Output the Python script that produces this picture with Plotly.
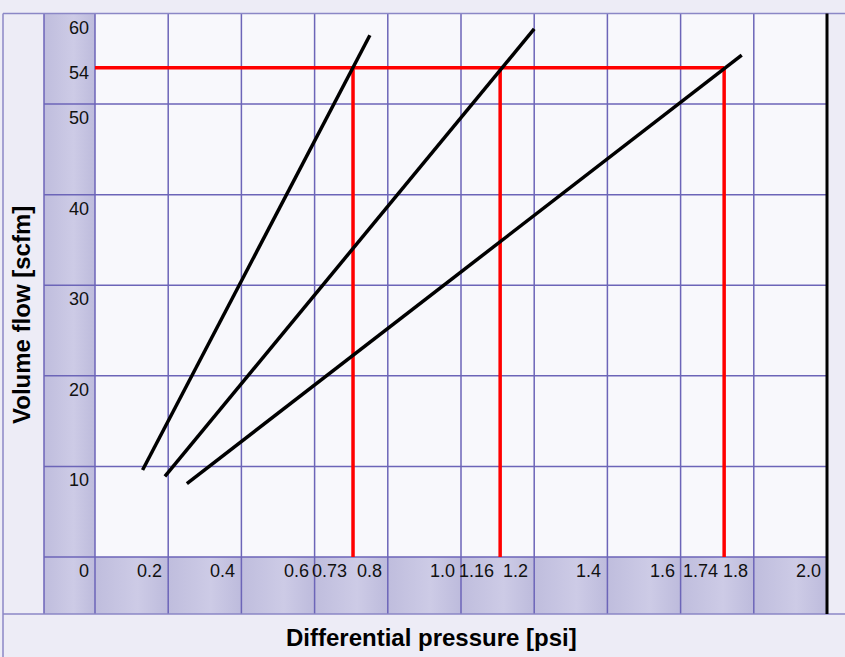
import plotly.graph_objects as go

# ---------------- data ----------------
X_TICKS = [0, 0.2, 0.4, 0.6, 0.8, 1.0, 1.2, 1.4, 1.6, 1.8, 2.0]
X_TICK_TEXT = ["0", "0.2", "0.4", "0.6", "0.8", "1.0", "1.2", "1.4", "1.6", "1.8", "2.0"]
Y_TICKS = [0, 10, 20, 30, 40, 50, 60]
Y_TICK_TEXT = ["", "10", "20", "30", "40", "50", "60"]

# three characteristic lines (differential pressure psi, volume flow scfm)
LINE_A_X = [0.130, 0.751]
LINE_A_Y = [9.6, 57.6]
LINE_B_X = [0.191, 1.200]
LINE_B_Y = [8.9, 58.3]
LINE_C_X = [0.251, 1.767]
LINE_C_Y = [8.1, 55.4]

READ_FLOW = 54
READ_FLOW_TEXT = "54"
READ_X = [0.705, 1.107, 1.719]
READ_X_TEXT = ["0.73", "1.16", "1.74"]

X_TITLE = "Differential pressure [psi]"
Y_TITLE = "Volume flow [scfm]"

# ---------------- layout helpers (pixel -> data for frame placement) ----------------
W, H = 845, 657
PX_X0, PX_PER_X = 95.0, 366.0      # x=0 at px 95, 1 psi = 366 px
PX_Y0, PX_PER_Y = 557.0, 9.0583    # y=0 at px 557, 1 scfm = 9.058 px


def dx(px):
    return (px - PX_X0) / PX_PER_X


def dy(py):
    return (PX_Y0 - py) / PX_PER_Y


XMIN, XMAX = dx(0), dx(W)
YMIN, YMAX = dy(H), dy(0)
XB = dx(44)      # left edge of y-label band
YB = dy(614)     # bottom edge of x-label band
XF = dx(3)       # outer left frame line
XTOP = X_TICKS[-1]
YTOP = Y_TICKS[-1]

GRID = "#6c65b8"
FRAME = "#8b87c6"
BAND_SCALE = [[0, "#bfbddd"], [0.58, "#cdcbe6"], [1, "#bdbbdc"]]
FONT = "Liberation Sans, Arial, sans-serif"

fig = go.Figure()


def band(x0, x1, y0, y1):
    fig.add_trace(go.Scatter(
        x=[x0, x1, x1, x0, x0], y=[y0, y0, y1, y1, y0],
        mode="lines", line=dict(width=0), fill="toself",
        fillgradient=dict(type="horizontal", colorscale=BAND_SCALE),
        hoverinfo="skip", showlegend=False))


# y label column
band(XB, 0, YB, YTOP)
# x label cells
for a, b in zip(X_TICKS[:-1], X_TICKS[1:]):
    band(a, b, YB, 0)

# grid lines
gx, gy = [], []
for t in [XB] + X_TICKS[:-1]:
    gx += [t, t, None]
    gy += [YB, YTOP, None]
for t in Y_TICKS[:-1]:
    gx += [XB, XTOP, None]
    gy += [t, t, None]
fig.add_trace(go.Scatter(x=gx, y=gy, mode="lines", line=dict(color=GRID, width=1.5),
                         hoverinfo="skip", showlegend=False))
# outer frame lines
fx = [XF, XMAX, None, XF, XMAX, None, XF, XF]
fy = [YTOP, YTOP, None, YB, YB, None, YTOP, YMIN]
fig.add_trace(go.Scatter(x=fx, y=fy, mode="lines", line=dict(color=FRAME, width=1.5),
                         hoverinfo="skip", showlegend=False))
# right black boundary at x = 2.0
fig.add_trace(go.Scatter(x=[XTOP, XTOP], y=[YB, YTOP], mode="lines",
                         line=dict(color="#000000", width=3), hoverinfo="skip", showlegend=False))

# red read-off lines
rx = [0, READ_X[-1], None]
ry = [READ_FLOW, READ_FLOW, None]
for v in READ_X:
    rx += [v, v, None]
    ry += [READ_FLOW, 0, None]
fig.add_trace(go.Scatter(x=rx, y=ry, mode="lines", line=dict(color="#ff0000", width=3.5),
                         hoverinfo="skip", showlegend=False))

# black characteristic lines
for xs, ys in [(LINE_A_X, LINE_A_Y), (LINE_B_X, LINE_B_Y), (LINE_C_X, LINE_C_Y)]:
    fig.add_trace(go.Scatter(x=xs, y=ys, mode="lines", line=dict(color="#000000", width=3.5),
                             hoverinfo="skip", showlegend=False))

ann = []
tf = dict(family=FONT, size=18, color="#111111")
for v, t in zip(X_TICKS, X_TICK_TEXT):
    ann.append(dict(x=v, y=0, text=t, showarrow=False, xanchor="right", yanchor="middle",
                    xshift=-4, yshift=-14, font=tf))
for v, t in zip(READ_X, READ_X_TEXT):
    ann.append(dict(x=v, y=0, text=t, showarrow=False, xanchor="right", yanchor="middle",
                    xshift=-4, yshift=-14, font=tf))
for v, t in zip(Y_TICKS, Y_TICK_TEXT):
    if t:
        ann.append(dict(x=0, y=v, text=t, showarrow=False, xanchor="right", yanchor="middle",
                        xshift=-4, yshift=-14, font=tf))
ann.append(dict(x=0, y=READ_FLOW, text=READ_FLOW_TEXT, showarrow=False, xanchor="right",
                yanchor="middle", xshift=-4, yshift=-5, font=tf))

ann.append(dict(x=dx(431), y=dy(637), text="<b>" + X_TITLE + "</b>", showarrow=False,
                xanchor="center", yanchor="middle",
                font=dict(family=FONT, size=24, color="#000000")))
ann.append(dict(x=dx(21), y=dy(315), text="<b>" + Y_TITLE + "</b>", showarrow=False,
                textangle=-90, xanchor="center", yanchor="middle",
                font=dict(family=FONT, size=24, color="#000000")))

fig.update_layout(
    width=W, height=H, margin=dict(l=0, r=0, t=0, b=0),
    paper_bgcolor="#edecf6", plot_bgcolor="#edecf6",
    xaxis=dict(range=[XMIN, XMAX], visible=False, fixedrange=True),
    yaxis=dict(range=[YMIN, YMAX], visible=False, fixedrange=True),
    shapes=[dict(type="rect", xref="x", yref="y", x0=0, x1=XTOP, y0=0, y1=YTOP,
                 fillcolor="#f8f8fc", line=dict(width=0), layer="below")],
    annotations=ann, showlegend=False,
)

fig.write_html("out.html", config={"displayModeBar": False},
               post_script="document.body.style.margin='0';")
